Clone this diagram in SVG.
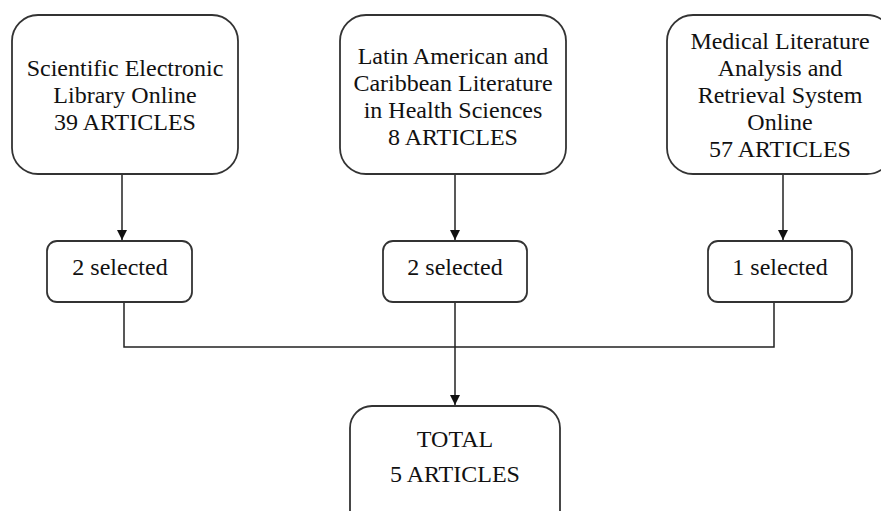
<svg xmlns="http://www.w3.org/2000/svg" width="881" height="511" viewBox="0 0 881 511">
<defs>
<style>
.box{fill:#fff;stroke:#333;stroke-width:1.8}
.t{font-family:"Liberation Serif","Times New Roman",serif;font-size:24px;fill:#111;text-anchor:middle}
.c{fill:none;stroke:#222;stroke-width:1.5}
</style>
<marker id="ah" viewBox="0 0 10 10" refX="10" refY="5" markerWidth="10" markerHeight="10" markerUnits="userSpaceOnUse" orient="auto">
<path d="M0,0 L10,5 L0,10 z" fill="#111"/>
</marker>
</defs>
<g id="connectors">
<line class="c" x1="122" y1="175" x2="122" y2="240" marker-end="url(#ah)"/>
<line class="c" x1="455" y1="175" x2="455" y2="240" marker-end="url(#ah)"/>
<line class="c" x1="783" y1="175" x2="783" y2="240" marker-end="url(#ah)"/>
<polyline class="c" points="124,302 124,347 774,347 774,302"/>
<line class="c" x1="455" y1="302" x2="455" y2="405" marker-end="url(#ah)"/>
</g>
<g id="scielo">
<rect class="box" x="12" y="15" width="226" height="159" rx="26"/>
<text class="t" x="125" y="76">Scientific Electronic</text>
<text class="t" x="125" y="103">Library Online</text>
<text class="t" x="125" y="130">39 ARTICLES</text>
</g>
<g id="lilacs">
<rect class="box" x="340" y="15" width="226" height="159" rx="26"/>
<text class="t" x="453" y="64">Latin American and</text>
<text class="t" x="453" y="91">Caribbean Literature</text>
<text class="t" x="453" y="118">in Health Sciences</text>
<text class="t" x="453" y="145">8 ARTICLES</text>
</g>
<g id="medline">
<rect class="box" x="667" y="15" width="226" height="159" rx="26"/>
<text class="t" x="780" y="49">Medical Literature</text>
<text class="t" x="780" y="76">Analysis and</text>
<text class="t" x="780" y="103">Retrieval System</text>
<text class="t" x="780" y="130">Online</text>
<text class="t" x="780" y="157">57 ARTICLES</text>
</g>
<g id="sel1">
<rect class="box" x="47" y="241" width="145" height="61" rx="10"/>
<text class="t" x="120" y="275">2 selected</text>
</g>
<g id="sel2">
<rect class="box" x="383" y="241" width="144" height="61" rx="10"/>
<text class="t" x="455" y="275">2 selected</text>
</g>
<g id="sel3">
<rect class="box" x="708" y="241" width="144" height="61" rx="10"/>
<text class="t" x="780" y="275">1 selected</text>
</g>
<g id="total">
<rect class="box" x="350" y="406" width="210" height="130" rx="22"/>
<text class="t" x="455" y="447">TOTAL</text>
<text class="t" x="455" y="482">5 ARTICLES</text>
</g>
</svg>
